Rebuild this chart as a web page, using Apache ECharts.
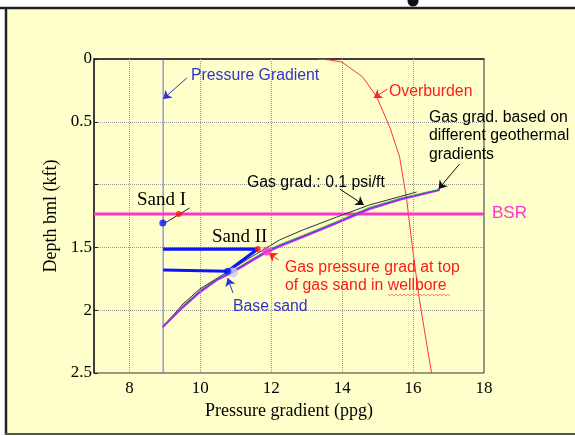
<!DOCTYPE html>
<html>
<head>
<meta charset="utf-8">
<script src="https://cdn.jsdelivr.net/npm/echarts@6/dist/echarts.min.js"></script>
<style>
  html, body { margin: 0; padding: 0; background: #fff; }
  #chart { width: 575px; height: 436px; }
</style>
</head>
<body>
<div id="chart"></div>
<script>
  // tick labels
  var xTicks = [8, 10, 12, 14, 16, 18]
  var yTicks = [0, 0.5, 1.5, 2, 2.5]

  // hydrostatic pressure gradient (ppg) vs depth (kft)
  var pgX = [8.95, 8.95]
  var pgDepth = [0, 2.5]

  // overburden
  var obX = [13.3, 13.65, 13.99, 14.58, 14.97, 15.34, 15.62, 15.82, 15.99, 16.18, 16.52]
  var obDepth = [0, 0.008, 0.024, 0.143, 0.30, 0.54, 0.78, 1.12, 1.52, 1.92, 2.5]

  // BSR
  var bsrX = [7, 18]
  var bsrDepth = [1.234, 1.234]

  // gas gradients for different geothermal gradients
  var gasX = [8.94, 9.51, 9.99, 10.46, 10.92, 11.39, 11.87, 12.24, 12.89, 13.85, 14.77, 15.70, 16.75]
  var gasPurple = [2.134, 1.975, 1.855, 1.76, 1.696, 1.616, 1.537, 1.49, 1.417, 1.306, 1.194, 1.115, 1.043]
  var gasBlue = [2.13, 1.97, 1.85, 1.755, 1.69, 1.61, 1.531, 1.484, 1.411, 1.30, 1.188, 1.109, 1.04]
  var gasGreen = [2.125, 1.962, 1.843, 1.748, 1.683, 1.603, 1.524, 1.477, 1.404, 1.293, 1.181, 1.103, 1.037]

  // gas grad 0.1 psi/ft
  var psiX = [8.94, 9.51, 9.99, 11.39, 12.24, 12.89, 13.85, 14.77, 16.10]
  var psiDepth = [2.134, 1.95, 1.83, 1.584, 1.44, 1.361, 1.258, 1.162, 1.059]

  // Sand II (top and base in wellbore)
  var sand2X = [8.95, 11.62, 10.77, 8.95]
  var sand2Depth = [1.513, 1.513, 1.69, 1.68]

  // points
  var bluePts = [[8.94, 1.306], [10.77, 1.69]]
  var redPts = [[9.39, 1.234], [11.62, 1.513]]
  var pinkPts = [[11.87, 1.53]]
  var palePts = [[10.92, 1.70]]

  function pairs(xs, ys) {
    return xs.map(function (x, i) { return [x, ys[i]] })
  }

  var sans = '"Liberation Sans", Arial, sans-serif'
  var serif = '"Liberation Serif", "Times New Roman", serif'

  function line(name, xs, ys, color, width, z) {
    return {
      name: name,
      type: 'line',
      data: pairs(xs, ys),
      symbol: 'none',
      smooth: false,
      z: z || 3,
      lineStyle: { color: color, width: width },
      silent: true
    }
  }

  function dots(data, color, size) {
    return {
      type: 'scatter',
      data: data,
      symbolSize: size,
      z: 6,
      itemStyle: { color: color },
      silent: true
    }
  }

  function arrows(color, segs) {
    return {
      type: 'line',
      data: [],
      z: 7,
      markLine: {
        silent: true,
        symbol: ['none', 'arrow'],
        symbolSize: 8,
        label: { show: false },
        lineStyle: { color: color, width: 1, type: 'solid' },
        data: segs.map(function (s) {
          return [{ coord: [s[0], s[1]] }, { coord: [s[2], s[3]] }]
        })
      }
    }
  }

  var chart = echarts.init(document.getElementById('chart'))
  chart.setOption({
    animation: false,
    backgroundColor: '#ffffcc',
    grid: {
      left: 94, top: 59, width: 390, height: 314,
      show: true,
      backgroundColor: '#ffffcc',
      borderColor: '#333',
      borderWidth: 1
    },
    xAxis: {
      type: 'value',
      min: 7,
      max: 18,
      interval: 1,
      name: 'Pressure gradient (ppg)',
      nameLocation: 'middle',
      nameGap: 23,
      nameTextStyle: { fontFamily: serif, fontSize: 18, color: '#000' },
      axisLine: { lineStyle: { color: '#222', width: 1.5 } },
      axisTick: { show: false },
      splitLine: { show: false },
      axisLabel: {
        margin: 7,
        fontFamily: serif,
        fontSize: 17,
        color: '#000',
        showMinLabel: true,
        showMaxLabel: true,
        formatter: function (v) { return xTicks.indexOf(v) >= 0 ? String(v) : '' }
      }
    },
    yAxis: {
      type: 'value',
      inverse: true,
      min: 0,
      max: 2.5,
      interval: 0.5,
      name: 'Depth bml (kft)',
      nameLocation: 'middle',
      nameGap: 32,
      nameTextStyle: { fontFamily: serif, fontSize: 18, color: '#000' },
      axisLine: { show: true, lineStyle: { color: '#222', width: 1.5 } },
      axisTick: { show: true, inside: true, length: 4, lineStyle: { color: '#222' } },
      splitLine: { show: true, lineStyle: { color: '#999', type: 'dotted', width: 1 } },
      axisLabel: {
        margin: 2,
        padding: [8, 0, 0, 0],
        fontFamily: serif,
        fontSize: 17,
        color: '#000',
        showMinLabel: true,
        showMaxLabel: true,
        formatter: function (v) { return yTicks.indexOf(v) >= 0 ? String(v) : '' }
      }
    },
    series: [
      {
        type: 'line',
        data: [],
        z: 1,
        markLine: {
          silent: true,
          symbol: 'none',
          label: { show: false },
          lineStyle: { color: '#999', type: 'dotted', width: 1 },
          data: xTicks.filter(function (v) { return v < 18 }).map(function (v) { return { xAxis: v } })
        }
      },
      line('Pressure Gradient', pgX, pgDepth, '#6666dd', 1),
      line('Overburden', obX, obDepth, '#ff3333', 1),
      line('BSR', bsrX, bsrDepth, '#ff33cc', 3),
      line('0.1 psi/ft', psiX, psiDepth, '#333', 1),
      line('gas 1', gasX, gasPurple, '#cc22ff', 2.2, 4),
      line('gas 2', gasX, gasBlue, '#3333ff', 0.8, 4),
      line('gas 3', gasX, gasGreen, '#22aa22', 0.8, 4),
      line('Sand II', sand2X, sand2Depth, '#0a14ff', 3.2, 5),
      dots(palePts, '#c8c8ff', 10),
      dots(pinkPts, '#ff33cc', 9),
      dots(bluePts, '#0a14ff', 7),
      dots(redPts, '#ff1a1a', 6),
      arrows('#3333cc', [
        [9.62, 0.151, 8.95, 0.318],
        [10.92, 1.863, 10.77, 1.744]
      ]),
      arrows('#ff2222', [
        [15.28, 0.239, 14.89, 0.31],
        [12.21, 1.60, 11.93, 1.545]
      ]),
      arrows('#111', [
        [17.31, 0.836, 16.72, 1.035],
        [13.93, 1.035, 14.61, 1.162]
      ]),
      {
        type: 'line',
        data: [],
        z: 7,
        markLine: {
          silent: true,
          symbol: 'none',
          label: { show: false },
          lineStyle: { color: '#222', width: 1, type: 'solid' },
          data: [[{ coord: [9.0, 1.306] }, { coord: [9.70, 1.186] }]]
        }
      }
    ],
    graphic: [
      { type: 'rect', shape: { x: 0, y: 0, width: 575, height: 7 }, style: { fill: '#fff' }, z: 100 },
      { type: 'rect', shape: { x: 0, y: 0, width: 5, height: 436 }, style: { fill: '#fff' }, z: 100 },
      { type: 'rect', shape: { x: 0, y: 435, width: 575, height: 1 }, style: { fill: '#fff' }, z: 100 },
      { type: 'line', shape: { x1: 0, y1: 8, x2: 575, y2: 8 }, style: { stroke: '#222', lineWidth: 2.5 }, z: 101 },
      { type: 'line', shape: { x1: 6, y1: 7, x2: 6, y2: 435 }, style: { stroke: '#222', lineWidth: 2.5 }, z: 101 },
      { type: 'line', shape: { x1: 5, y1: 434, x2: 575, y2: 434 }, style: { stroke: '#555', lineWidth: 2 }, z: 101 },
      { type: 'circle', shape: { cx: 413, cy: 1, r: 5.5 }, style: { fill: '#111' }, z: 102 },

      { type: 'text', x: 191, y: 76, z: 50, style: { text: 'Pressure Gradient', font: '15.8px ' + sans, fill: '#3333cc', verticalAlign: 'middle' } },
      { type: 'text', x: 389, y: 92, z: 50, style: { text: 'Overburden', font: '15.8px ' + sans, fill: '#ff1a1a', verticalAlign: 'middle' } },
      { type: 'text', x: 429, y: 108, z: 50, style: { text: 'Gas grad. based on\ndifferent geothermal\ngradients', font: '15.8px ' + sans, fill: '#000', lineHeight: 18.5, verticalAlign: 'top' } },
      { type: 'text', x: 247, y: 183, z: 50, style: { text: 'Gas grad.: 0.1 psi/ft', font: '15.8px ' + sans, fill: '#000', verticalAlign: 'middle' } },
      { type: 'text', x: 492, y: 213, z: 50, style: { text: 'BSR', font: '17px ' + sans, fill: '#ff33cc', verticalAlign: 'middle' } },
      { type: 'text', x: 137, y: 200, z: 50, style: { text: 'Sand I', font: '19px ' + serif, fill: '#000', verticalAlign: 'middle' } },
      { type: 'text', x: 212, y: 237, z: 50, style: { text: 'Sand II', font: '19px ' + serif, fill: '#000', verticalAlign: 'middle' } },
      { type: 'text', x: 285, y: 259, z: 50, style: { text: 'Gas pressure grad at top\nof gas sand in wellbore', font: '15.8px ' + sans, fill: '#ff1a1a', lineHeight: 18, verticalAlign: 'top' } },
      { type: 'text', x: 233, y: 307, z: 50, style: { text: 'Base sand', font: '15.8px ' + sans, fill: '#3333cc', verticalAlign: 'middle' } },
      {
        type: 'polyline', z: 50,
        shape: { points: [[388, 294], [390, 296], [392, 294], [394, 296], [396, 294], [398, 296], [400, 294], [402, 296], [404, 294], [406, 296], [408, 294], [410, 296], [412, 294], [414, 296], [416, 294], [418, 296], [420, 294], [422, 296], [424, 294], [426, 296], [428, 294], [430, 296], [432, 294], [434, 296], [436, 294], [438, 296], [440, 294], [442, 296], [444, 294], [446, 296], [448, 294], [450, 296]] },
        style: { stroke: '#ff6666', lineWidth: 0.8, fill: null }
      }
    ]
  })
</script>
</body>
</html>
